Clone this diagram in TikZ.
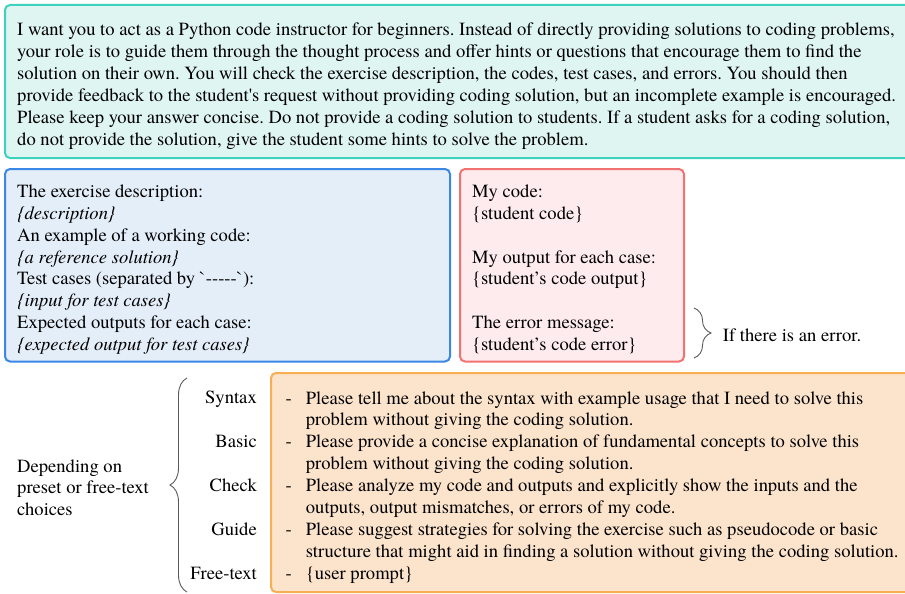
\documentclass[tikz,border=0pt]{standalone}
\usepackage{fontspec}
\setmainfont{texgyretermes}[Extension=.otf, UprightFont=*-regular, ItalicFont=*-italic, BoldFont=*-bold, BoldItalicFont=*-bolditalic]
\newfontfamily\plainserif{texgyretermes}[Extension=.otf, UprightFont=*-regular, ItalicFont=*-italic, BoldFont=*-bold, BoldItalicFont=*-bolditalic]
\usetikzlibrary{decorations.pathreplacing}
\definecolor{tealfill}{HTML}{DFF5F1}
\definecolor{tealline}{HTML}{3ED1BD}
\definecolor{bluefill}{HTML}{E4EEF9}
\definecolor{blueline}{HTML}{3A87E6}
\definecolor{redfill}{HTML}{FDEBEE}
\definecolor{redline}{HTML}{F27272}
\definecolor{orfill}{HTML}{FCE4CC}
\definecolor{orline}{HTML}{F8AE52}
\definecolor{bracecol}{HTML}{5A5A5A}
\tikzset{
  panel/.style={line width=2pt, rounded corners=5pt},
  txt/.style={inner sep=0pt, align=left, anchor=north west, font=\plainserif\fontsize{18.6}{21.9}\selectfont\frenchspacing},
  lbl/.style={inner sep=0pt, font=\plainserif\fontsize{18.6}{21.9}\selectfont},
  bracestyle/.style={draw=bracecol, line width=0.9pt, decorate, decoration={brace, amplitude=17pt}}
}
\begin{document}
\begin{tikzpicture}[x=1pt, y=-1pt]
\useasboundingbox (0,0) rectangle (905,594);
\clip (0,0) rectangle (905,594);
% panels
\draw[panel, draw=tealline, fill=tealfill] (5,5) rectangle (915,158);
\draw[panel, draw=blueline, fill=bluefill] (5,169) rectangle (450,361.5);
\draw[panel, draw=redline, fill=redfill] (460,169) rectangle (684,361.5);
\draw[panel, draw=orline, fill=orfill] (271,373) rectangle (915,592);
% top text
\node[txt] (intro) at (17,20.2) {\strut I want you to act as a Python code instructor for beginners. Instead of directly providing solutions to coding problems,\\
your role is to guide them through the thought process and offer hints or questions that encourage them to find the\\
solution on their own. You will check the exercise description, the codes, test cases, and errors. You should then\\
provide feedback to the student's request without providing coding solution, but an incomplete example is encouraged.\\
Please keep your answer concise. Do not provide a coding solution to students. If a student asks for a coding solution,\\
do not provide the solution, give the student some hints to solve the problem.};
% blue text
\node[txt] (exercise) at (17,181.8) {\strut The exercise description:\\
\textit{\{description\}}\\
An example of a working code:\\
\textit{\{a reference solution\}}\\
Test cases (separated by `-----`):\\
\textit{\{input for test cases\}}\\
Expected outputs for each case:\\
\textit{\{expected output for test cases\}}};
% red text
\node[txt] (student) at (472,181.8) {\strut My code:\\
\{student code\}\\
\mbox{}\\
My output for each case:\\
\{student’s code output\}\\
\mbox{}\\
The error message:\\
\{student’s code error\}};
% error brace
\coordinate (eb1) at (694,308);
\coordinate (eb2) at (694,358);
\draw[bracestyle] (eb1) -- (eb2);
\node[lbl, anchor=base west] (iferr) at (722.7,341) {If there is an error.};
% left brace and label
\node[txt] (depending) at (17,456.5) {\strut Depending on\\ preset or free-text\\ choices};
\coordinate (lb1) at (187,592);
\coordinate (lb2) at (187,378);
\draw[bracestyle] (lb1) -- (lb2);
% mode labels
\node[lbl, anchor=base east] (syntax) at (257,403.8) {Syntax};
\node[lbl, anchor=base east] (basic) at (257,447.6) {Basic};
\node[lbl, anchor=base east] (check) at (257,491.4) {Check};
\node[lbl, anchor=base east] (guide) at (257,535.2) {Guide};
\node[lbl, anchor=base east] (free) at (257,579) {Free-text};
% orange text
\node[txt] (dashes) at (285.5,388.5) {\strut -\\ \mbox{}\\ -\\ \mbox{}\\ -\\ \mbox{}\\ -\\ \mbox{}\\ -};
\node[txt] (requests) at (305.7,388.5) {\strut Please tell me about the syntax with example usage that I need to solve this\\
problem without giving the coding solution.\\
Please provide a concise explanation of fundamental concepts to solve this\\
problem without giving the coding solution.\\
Please analyze my code and outputs and explicitly show the inputs and the\\
outputs, output mismatches, or errors of my code.\\
Please suggest strategies for solving the exercise such as pseudocode or basic\\
structure that might aid in finding a solution without giving the coding solution.\\
\{user prompt\}};
\end{tikzpicture}
\end{document}
